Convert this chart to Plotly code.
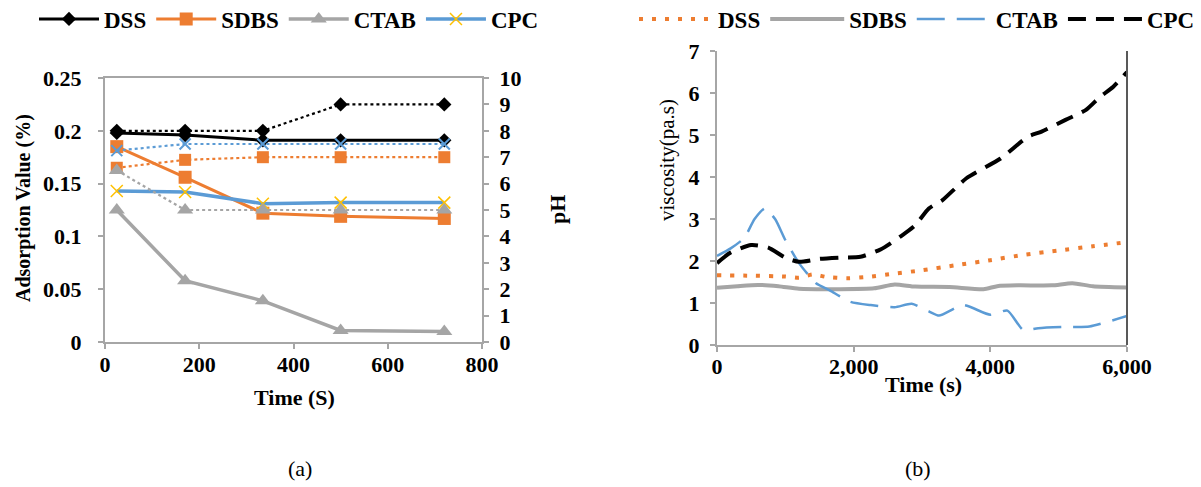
import plotly.graph_objects as go

# ---------------- data: panel (a) ----------------
time_a = [25, 170, 335, 500, 720]
ads_dss = [0.198, 0.196, 0.191, 0.191, 0.191]
ads_sdbs = [0.185, 0.156, 0.122, 0.119, 0.117]
ads_ctab = [0.125, 0.058, 0.039, 0.011, 0.010]
ads_cpc = [0.143, 0.142, 0.131, 0.132, 0.132]
ph_dss = [8.0, 8.0, 8.0, 9.0, 9.0]
ph_sdbs = [6.6, 6.9, 7.0, 7.0, 7.0]
ph_ctab = [6.5, 5.0, 5.0, 5.0, 5.0]
ph_cpc = [7.25, 7.5, 7.5, 7.5, 7.5]

# ---------------- data: panel (b) ----------------
t_dss = [0, 500, 1000, 1200, 1400, 1600, 1900, 2200, 2600, 3000, 3500, 4000, 4500, 5000, 5500, 6000]
v_dss = [1.66, 1.65, 1.63, 1.6, 1.68, 1.62, 1.59, 1.62, 1.7, 1.78, 1.9, 2.02, 2.15, 2.25, 2.35, 2.45]
t_sdbs = [0, 300, 600, 900, 1200, 1800, 2300, 2600, 2900, 3400, 3900, 4100, 4400, 4900, 5200, 5500, 6000]
v_sdbs = [1.36, 1.4, 1.43, 1.4, 1.34, 1.33, 1.35, 1.44, 1.39, 1.38, 1.33, 1.4, 1.42, 1.42, 1.47, 1.40, 1.37]
t_ctab = [0, 200, 400, 550, 700, 850, 1000, 1200, 1450, 1650, 1950, 2250, 2600, 2850, 3100, 3250,
          3600, 4000, 4250, 4480, 4700, 5100, 5450, 6000]
v_ctab = [2.12, 2.3, 2.55, 3.0, 3.25, 3.0, 2.5, 1.95, 1.47, 1.3, 1.03, 0.95, 0.9, 0.98, 0.8, 0.7,
          0.95, 0.72, 0.82, 0.36, 0.4, 0.43, 0.44, 0.69]
t_cpc = [0, 200, 500, 750, 1000, 1200, 1500, 1800, 2100, 2400, 2700, 2900, 3100, 3300, 3650, 4150,
         4550, 4750, 5100, 5400, 5600, 5800, 6000]
v_cpc = [1.95, 2.2, 2.38, 2.32, 2.08, 1.98, 2.05, 2.08, 2.1, 2.28, 2.6, 2.85, 3.25, 3.45, 3.97, 4.44,
         4.96, 5.08, 5.36, 5.6, 5.9, 6.15, 6.5]

names = ["DSS", "SDBS", "CTAB", "CPC"]

BLACK = "#000000"
ORANGE = "#ED7D31"
GRAY = "#A5A5A5"
BLUE = "#5B9BD5"
YELLOW = "#FFC000"
AXIS = "#A6A6A6"
FONT = "Liberation Serif"

W, H = 1201, 487

fig = go.Figure()

# pH (dotted, secondary axis)
ph_series = [
    (ph_dss, BLACK, dict(symbol="diamond", size=11, color=BLACK)),
    (ph_sdbs, ORANGE, dict(symbol="square", size=12, color=ORANGE)),
    (ph_ctab, GRAY, dict(symbol="triangle-up", size=14, color=GRAY)),
    (ph_cpc, BLUE, dict(symbol="x-thin", size=11, line=dict(color=BLUE, width=2))),
]
for (vals, col, mk) in ph_series:
    fig.add_trace(go.Scatter(x=time_a, y=vals, mode="lines+markers", xaxis="x", yaxis="y2",
                             line=dict(color=col, width=2.2, dash="dot"), marker=mk,
                             showlegend=False, hoverinfo="skip"))

# adsorption (solid, primary axis)
ads_series = [
    (ads_dss, BLACK, 3, dict(symbol="diamond", size=11, color=BLACK)),
    (ads_sdbs, ORANGE, 3, dict(symbol="square", size=13, color=ORANGE)),
    (ads_ctab, GRAY, 3.5, dict(symbol="triangle-up", size=14, color=GRAY)),
    (ads_cpc, BLUE, 3.5, dict(symbol="x-thin", size=12, line=dict(color=YELLOW, width=1.5))),
]
for name, (vals, col, lw, mk) in zip(names, ads_series):
    fig.add_trace(go.Scatter(x=time_a, y=vals, name=name, mode="lines+markers", xaxis="x", yaxis="y",
                             line=dict(color=col, width=lw), marker=mk, legend="legend"))

# viscosity
visc = [
    ("DSS", t_dss, v_dss, dict(color=ORANGE, width=4, dash="4px,9px")),
    ("SDBS", t_sdbs, v_sdbs, dict(color=GRAY, width=4)),
    ("CTAB", t_ctab, v_ctab, dict(color=BLUE, width=2.5, dash="28px,12px")),
    ("CPC", t_cpc, v_cpc, dict(color=BLACK, width=4, dash="18px,10px")),
]
for name, tx, vy, ln in visc:
    fig.add_trace(go.Scatter(x=tx, y=vy, name=name, mode="lines", xaxis="x2", yaxis="y3",
                             line=dict(ln, shape="spline", smoothing=0.6), legend="legend2"))

tickfont = dict(family=FONT, size=22, color="#000000", weight="bold")

# domains in px
ax_l, ax_r, ax_t, ax_b = 105, 482, 78, 342
bx_l, bx_r, bx_t, bx_b = 717, 1127, 51, 345

common = dict(showgrid=False, zeroline=False, showline=True, linecolor=AXIS, linewidth=2,
              ticks="outside", ticklen=5, tickcolor=AXIS, tickwidth=1.5, tickfont=tickfont)

legfont = dict(family=FONT, size=23, color="#000000", weight="bold")

fig.update_layout(
    width=W, height=H,
    margin=dict(l=0, r=0, t=0, b=0, pad=0, autoexpand=False),
    paper_bgcolor="white", plot_bgcolor="white",
    font=dict(family=FONT, size=20, color="#000000"),
    xaxis=dict(common, domain=[ax_l / W, ax_r / W], range=[0, 800], dtick=200, anchor="y",
               mirror=True, ticklabelstandoff=-3),
    yaxis=dict(common, domain=[1 - ax_b / H, 1 - ax_t / H], range=[0, 0.25], dtick=0.05,
               anchor="x", tickformat="~g", ticklabelstandoff=12),
    yaxis2=dict(common, overlaying="y", side="right", range=[0, 10], dtick=1, anchor="x",
                ticklabelstandoff=6),
    xaxis2=dict(common, domain=[bx_l / W, bx_r / W], range=[0, 6000], dtick=2000, anchor="y3",
                tickformat=",d", ticklabelstandoff=-4),
    yaxis3=dict(common, domain=[1 - bx_b / H, 1 - bx_t / H], range=[0, 7], dtick=1, anchor="x2",
                ticklabelstandoff=6),
    legend=dict(orientation="h", xref="container", yref="container", x=34 / W, xanchor="left",
                y=1 - 19 / H, yanchor="middle",
                font=legfont, itemwidth=60, tracegroupgap=0, bgcolor="rgba(0,0,0,0)"),
    legend2=dict(orientation="h", xref="container", yref="container", x=634 / W, xanchor="left",
                 y=1 - 19 / H, yanchor="middle",
                 font=legfont, itemwidth=74, bgcolor="rgba(0,0,0,0)"),
)

# darker right border on panel (b)
fig.add_shape(type="line", xref="x2 domain", yref="y3 domain", x0=1, x1=1, y0=0, y1=1,
              line=dict(color="#595959", width=2))

def ann(text, x, y, angle=0, size=20, bold=True):
    fig.add_annotation(text=text, x=x / W, y=1 - y / H, xref="paper", yref="paper",
                       showarrow=False, textangle=angle, xanchor="center", yanchor="middle",
                       font=dict(family=FONT, size=size, color="#000000",
                                 weight="bold" if bold else "normal"))

ann("Adsorption Value (%)", 23, 208, -90)
ann("pH", 557, 210, -90, size=22)
ann("Time (S)", 294, 397, size=22)
ann("viscosity(pa.s)", 667, 160, -90, size=21, bold=False)
ann("Time (s)", 923, 384, size=22)
ann("(a)", 300, 468, bold=False, size=22)
ann("(b)", 918, 468, bold=False, size=22)

fig.write_html("out.html", config={"displayModeBar": False},
               post_script="document.body.style.margin='0';document.body.style.overflow='hidden';")
